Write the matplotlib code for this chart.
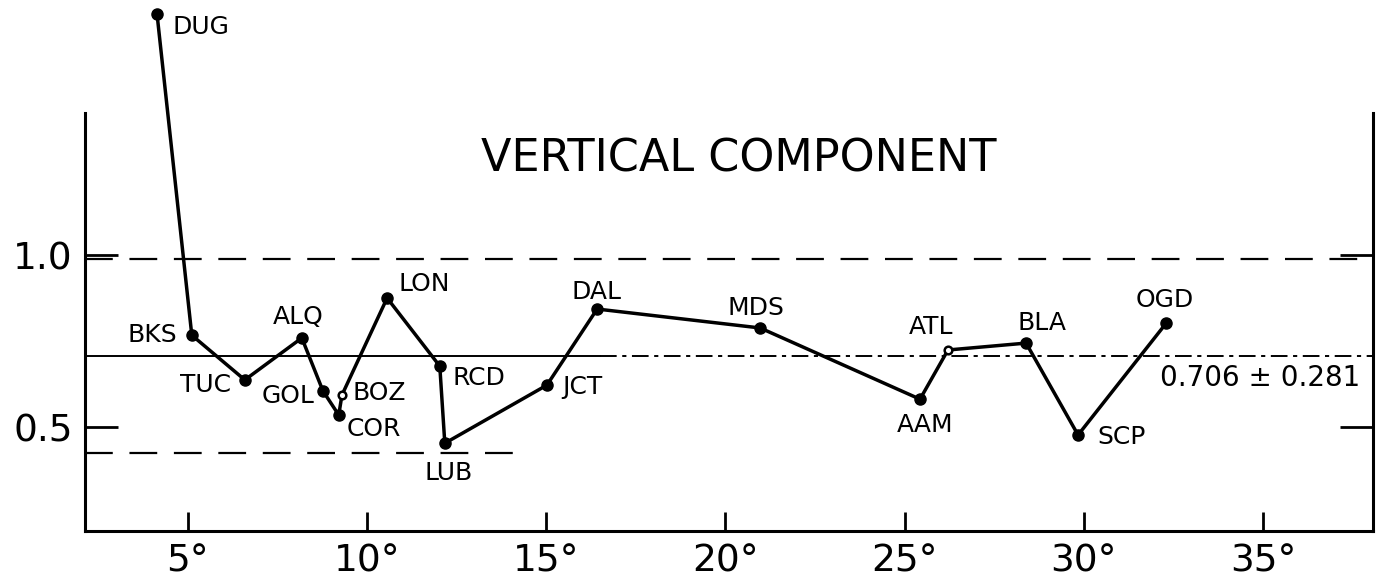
import matplotlib.pyplot as plt

# station amplitude ratios, vertical component
stations = ['DUG', 'BKS', 'TUC', 'ALQ', 'GOL', 'COR', 'BOZ', 'LON', 'RCD',
            'LUB', 'JCT', 'DAL', 'MDS', 'AAM', 'ATL', 'BLA', 'SCP', 'OGD']
distance = [4.14, 5.11, 6.59, 8.18, 8.77, 9.21, 9.30, 10.56, 12.03,
            12.17, 15.02, 16.42, 20.97, 25.43, 26.21, 28.39, 29.84, 32.30]
ratio = [1.70, 0.767, 0.637, 0.759, 0.605, 0.535, 0.593, 0.875, 0.677,
         0.453, 0.622, 0.843, 0.788, 0.581, 0.724, 0.744, 0.477, 0.802]
open_marks = ['BOZ', 'ATL']

mean_ratio = 0.706
std_ratio = 0.281

xticks = [5, 10, 15, 20, 25, 30, 35]
xtick_labels = ['5°', '10°', '15°', '20°', '25°', '30°', '35°']
yticks = [0.5, 1.0]
ytick_labels = ['0.5', '1.0']

# label placement: (dx px, dy px upward, horizontal alignment)
label_pos = {
    'DUG': (15, -13, 'left'), 'BKS': (-15, 0, 'right'), 'TUC': (-14, -5, 'right'),
    'ALQ': (-4, 21, 'center'), 'GOL': (-8, -5, 'right'), 'COR': (8, -14, 'left'),
    'BOZ': (11, 2, 'left'), 'LON': (11, 14, 'left'), 'RCD': (13, -12, 'left'),
    'LUB': (4, -30, 'center'), 'JCT': (15, -2, 'left'), 'DAL': (-1, 17, 'center'),
    'MDS': (-4, 20, 'center'), 'AAM': (5, -26, 'center'), 'ATL': (-17, 23, 'center'),
    'BLA': (16, 20, 'center'), 'SCP': (19, -2, 'left'), 'OGD': (-1, 23, 'center'),
}

px = 0.72  # points per pixel at 100 dpi
plt.rcParams['lines.scale_dashes'] = False

fig = plt.figure(figsize=(13.83, 5.88), dpi=100)
ax = fig.add_axes([85 / 1383, 57 / 588, 1288 / 1383, 531 / 588])
ax.set_xlim(2.13, 38.07)
ax.set_ylim(0.198, 1.741)

ax.spines['top'].set_visible(False)
for side in ['left', 'right', 'bottom']:
    ax.spines[side].set_linewidth(2.2)
ax.spines['left'].set_bounds(0.198, 1.413)
ax.spines['right'].set_bounds(0.198, 1.413)

# mean and +/- one standard deviation
ax.plot([2.13, 16.5], [mean_ratio, mean_ratio], color='k', lw=1.4)
ax.plot([16.5, 38.07], [mean_ratio, mean_ratio], color='k', lw=1.4,
        dashes=(12, 4, 3, 4))
ax.plot([2.13, 38.07], [mean_ratio + std_ratio] * 2, color='k', lw=1.6,
        dashes=(20, 12))
ax.plot([2.13, 14.36], [mean_ratio - std_ratio] * 2, color='k', lw=1.6,
        dashes=(20, 12))

ax.plot(distance, ratio, color='k', lw=2.5, zorder=3, clip_on=False)
for name, x, y in zip(stations, distance, ratio):
    if name in open_marks:
        ax.plot(x, y, 'o', ms=5.5, mfc='white', mec='k', mew=1.8, zorder=4)
    else:
        ax.plot(x, y, 'o', ms=8, color='k', zorder=4, clip_on=False)
    dx, dy, ha = label_pos[name]
    ax.annotate(name, (x, y), xytext=(dx * px, dy * px),
                textcoords='offset points', ha=ha, va='center', fontsize=18)

ax.text(37.71, 0.642, '0.706 ± 0.281', ha='right', va='center', fontsize=20)
ax.text(20.38, 1.279, 'VERTICAL COMPONENT', ha='center', va='center',
        fontsize=32)

ax.set_xticks(xticks)
ax.set_xticklabels(xtick_labels)
ax.set_yticks(yticks)
ax.set_yticklabels(ytick_labels)
ax.tick_params(axis='x', direction='in', length=14, width=2, labelsize=27, pad=9)
ax.tick_params(axis='y', direction='in', length=24, width=2, labelsize=27,
               pad=9, right=True)

fig.savefig('out.png', dpi=100)
